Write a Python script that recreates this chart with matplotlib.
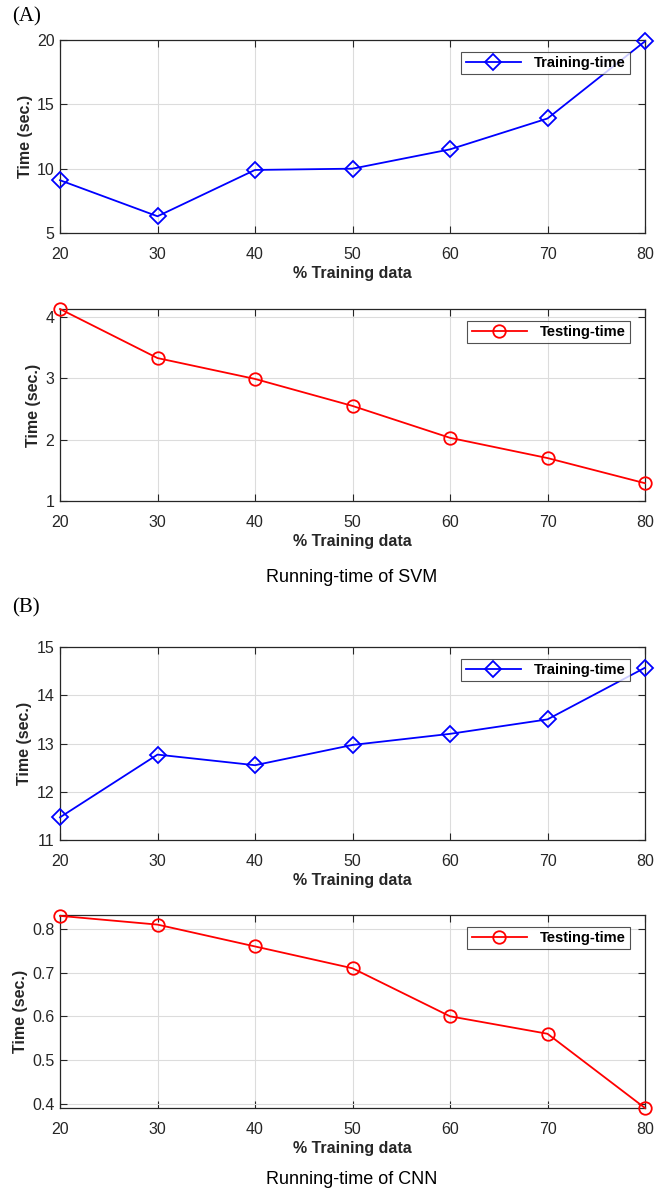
import matplotlib.pyplot as plt

# data
train_pct = [20, 30, 40, 50, 60, 70, 80]
svm_train = [9.1, 6.3, 9.9, 10.0, 11.5, 13.9, 19.9]
svm_test = [4.13, 3.33, 2.99, 2.55, 2.03, 1.70, 1.29]
cnn_train = [11.47, 12.77, 12.55, 12.97, 13.20, 13.50, 14.57]
cnn_test = [0.83, 0.81, 0.76, 0.71, 0.60, 0.56, 0.39]

plt.rcParams['font.family'] = ['Liberation Sans', 'DejaVu Sans']

W, H = 670, 1194
fig = plt.figure(figsize=(W / 100, H / 100), dpi=100)


def add_ax(left, top, right, bottom):
    return fig.add_axes([left / W, 1 - bottom / H, (right - left) / W, (bottom - top) / H])


def style(ax, ylim, yticks, yfmt):
    ax.set_xlim(20, 80)
    ax.set_xticks(train_pct)
    ax.set_ylim(*ylim)
    ax.set_yticks(yticks)
    ax.set_yticklabels([yfmt.format(v) for v in yticks])
    ax.grid(True, color='#dcdcdc', linewidth=0.8)
    ax.set_axisbelow(True)
    ax.tick_params(direction='in', top=True, right=True, labelsize=11.5,
                   colors='#262626', length=5, width=0.8)
    ax.tick_params(axis='x', pad=10)
    ax.tick_params(axis='y', pad=4)
    for s in ax.spines.values():
        s.set_color('#262626')
        s.set_linewidth(0.9)
    ax.set_xlabel('% Training data', fontsize=11.5, fontweight='bold', color='#262626', labelpad=3)
    ax.set_ylabel('Time (sec.)', fontsize=11.5, fontweight='bold', color='#262626', labelpad=3)


def train_plot(ax, y):
    ax.plot(train_pct, y, color='blue', lw=1.3, marker='D', ms=8, mfc='none',
            mew=1.3, label='Training-time', clip_on=False, zorder=3)


def test_plot(ax, y):
    ax.plot(train_pct, y, color='red', lw=1.3, marker='o', ms=9, mfc='none',
            mew=1.3, label='Testing-time', clip_on=False, zorder=3)


def legend(ax):
    leg = ax.legend(loc='upper right', bbox_to_anchor=(0.975, 0.94), fancybox=False,
                    prop={'weight': 'bold', 'size': 10.5}, handlelength=3.8,
                    borderpad=0.3, handletextpad=0.9, borderaxespad=0)
    leg.get_frame().set_edgecolor('#262626')
    leg.get_frame().set_linewidth(0.8)


ax1 = add_ax(60, 40, 645, 233)
train_plot(ax1, svm_train)
style(ax1, (5, 20), [5, 10, 15, 20], '{:g}')
legend(ax1)

ax2 = add_ax(60, 309, 645, 501)
test_plot(ax2, svm_test)
style(ax2, (1, 4.13), [1, 2, 3, 4], '{:g}')
legend(ax2)

ax3 = add_ax(60, 647, 645, 840)
train_plot(ax3, cnn_train)
style(ax3, (11, 15), [11, 12, 13, 14, 15], '{:g}')
legend(ax3)

ax4 = add_ax(60, 915, 645, 1108)
test_plot(ax4, cnn_test)
style(ax4, (0.39, 0.832), [0.4, 0.5, 0.6, 0.7, 0.8], '{:.1f}')
legend(ax4)

fig.text(352 / W, 1 - 577 / H, 'Running-time of SVM', ha='center', va='center', fontsize=13)
fig.text(352 / W, 1 - 1180 / H, 'Running-time of CNN', ha='center', va='center', fontsize=13)
fig.text(12 / W, 1 - 17 / H, '(A)', ha='left', va='center', fontsize=15, family='Liberation Serif')
fig.text(12 / W, 1 - 608 / H, '(B)', ha='left', va='center', fontsize=15, family='Liberation Serif')

fig.savefig('out.png', dpi=100)
